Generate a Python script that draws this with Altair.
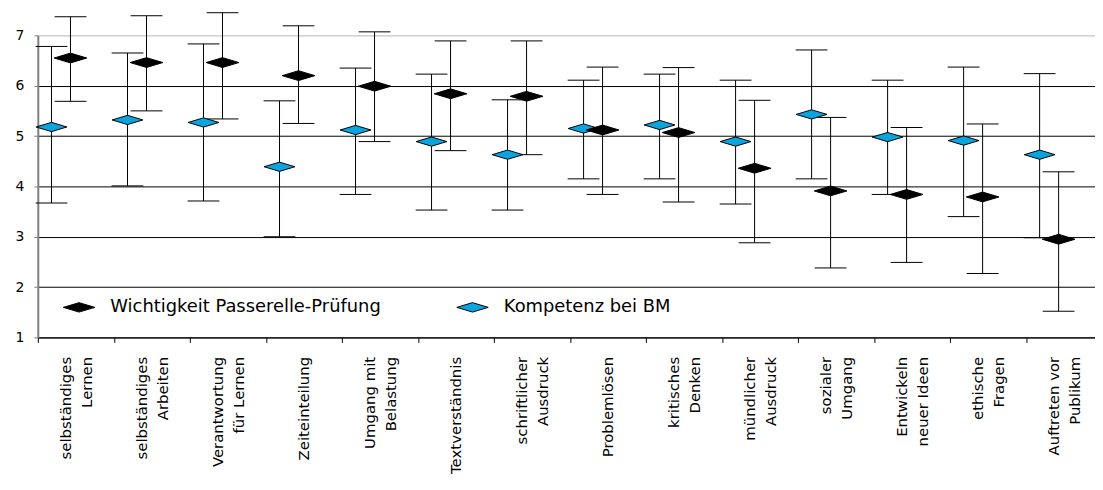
import altair as alt
import pandas as pd

categories = [
    "selbständiges\nLernen", "selbständiges\nArbeiten", "Verantwortung\nfür Lernen",
    "Zeiteinteilung", "Umgang mit\nBelastung", "Textverständnis", "schriftlicher\nAusdruck",
    "Problemlösen", "kritisches\nDenken", "mündlicher\nAusdruck", "sozialer\nUmgang",
    "Entwickeln\nneuer Ideen", "ethische\nFragen", "Auftreten vor\nPublikum",
]

series_w = "Wichtigkeit Passerelle-Prüfung"
series_k = "Kompetenz bei BM"

# Wichtigkeit Passerelle-Prüfung (black)
w_mean = [6.55, 6.46, 6.46, 6.20, 5.99, 5.84, 5.79, 5.12, 5.07, 4.36, 3.91, 3.84, 3.79, 2.95]
w_low = [5.69, 5.50, 5.34, 5.25, 4.89, 4.71, 4.63, 3.84, 3.69, 2.88, 2.38, 2.49, 2.27, 1.52]
w_high = [7.37, 7.39, 7.45, 7.19, 7.07, 6.89, 6.89, 6.37, 6.36, 5.71, 5.37, 5.17, 5.24, 4.29]

# Kompetenz bei BM (cyan)
k_mean = [5.18, 5.32, 5.27, 4.39, 5.12, 4.89, 4.63, 5.15, 5.22, 4.89, 5.43, 4.98, 4.91, 4.63]
k_low = [3.67, 4.01, 3.71, 3.00, 3.84, 3.53, 3.53, 4.15, 4.15, 3.65, 4.15, 3.84, 3.40, 2.98]
k_high = [6.78, 6.65, 6.83, 5.70, 6.35, 6.23, 5.72, 6.11, 6.23, 6.11, 6.71, 6.11, 6.37, 6.24]

rows = []
for i, c in enumerate(categories):
    rows.append({"cat": c, "series": series_w, "mean": w_mean[i], "low": w_low[i], "high": w_high[i]})
    rows.append({"cat": c, "series": series_k, "mean": k_mean[i], "low": k_low[i], "high": k_high[i]})
df = pd.DataFrame(rows)

FONT = "DejaVu Sans"
CYAN = "#0aa5df"
DIAMOND = "M-1,0L0,-0.3L1,0L0,0.3Z"
CAP = "M-1,0L1,0"

xaxis = alt.Axis(
    title=None, labelAngle=-90, labelAlign="right", labelBaseline="middle",
    labelExpr="split(datum.label, '\\n')", labelLineHeight=21, labelFontSize=15,
    labelFont=FONT, labelColor="black", labelPadding=14, labelLimit=300,
    labelOffset={"condition": {"test": "indexof(datum.label, '\\n') >= 0", "value": -10}, "value": 0},
    tickBand="extent", tickSize=5, tickColor="black", domainColor="black",
    grid=False, labelOverlap=False,
)
# the 14th category runs past the right edge of the picture, as in the original
xscale = alt.Scale(domain=categories, paddingInner=0, paddingOuter=0, range=[0, 1071])
yscale = alt.Scale(domain=[1, 7], nice=False, zero=False)
yaxis = alt.Axis(
    title=None, values=[1, 2, 3, 4, 5, 6, 7], grid=True,
    gridColor={"condition": {"test": "datum.value === 7", "value": "#c8c8c8"}, "value": "black"},
    gridWidth=1, tickSize=4, tickColor="#7f7f7f", domainColor="#7f7f7f", domainWidth=2,
    labelFontSize=14, labelFont=FONT, labelColor="black", labelPadding=10,
)

def layer_for(series, bpos, dsize):
    d = df[df.series == series]
    base = alt.Chart(d)
    x = alt.X("cat:N", scale=xscale, axis=xaxis, sort=categories, bandPosition=bpos)
    rule = base.mark_rule(color="black", strokeWidth=1).encode(
        x=x, y=alt.Y("low:Q", scale=yscale, axis=yaxis), y2="high:Q")
    cap_lo = base.mark_point(shape=CAP, size=1024, filled=False, color="black",
                             strokeWidth=1, opacity=1).encode(
        x=x, y=alt.Y("low:Q", scale=yscale, axis=yaxis))
    cap_hi = base.mark_point(shape=CAP, size=1024, filled=False, color="black",
                             strokeWidth=1, opacity=1).encode(
        x=x, y=alt.Y("high:Q", scale=yscale, axis=yaxis))
    pts = base.mark_point(shape=DIAMOND, size=dsize, filled=True, stroke="black",
                          strokeWidth=1, opacity=1).encode(
        x=x, y=alt.Y("mean:Q", scale=yscale, axis=yaxis),
        fill=alt.Fill("series:N",
                      scale=alt.Scale(domain=[series_w, series_k], range=["black", CYAN]),
                      legend=alt.Legend(
                          title=None, orient="none", legendX=25, legendY=257,
                          direction="horizontal", columns=2, columnPadding=73,
                          symbolType=DIAMOND, symbolSize=1000, symbolStrokeColor="black",
                          symbolStrokeWidth=1, labelFont=FONT, labelFontSize=18,
                          labelColor="black", labelOffset=15, labelLimit=400,
                      )),
    )
    return rule, cap_lo, cap_hi, pts

rk, lk, hk, pk = layer_for(series_k, 0.18, 960)
rw, lw, hw, pw = layer_for(series_w, 0.43, 1080)

chart = alt.layer(rk, lk, hk, rw, lw, hw, pk, pw).properties(
    width=1064, height=304,
    autosize=alt.AutoSizeParams(type="none"),
    padding={"left": 30, "top": 26, "right": 0, "bottom": 150},
).configure_view(stroke=None).configure(font=FONT)

chart.save("out.html", embed_options={"renderer": "svg", "actions": False})
